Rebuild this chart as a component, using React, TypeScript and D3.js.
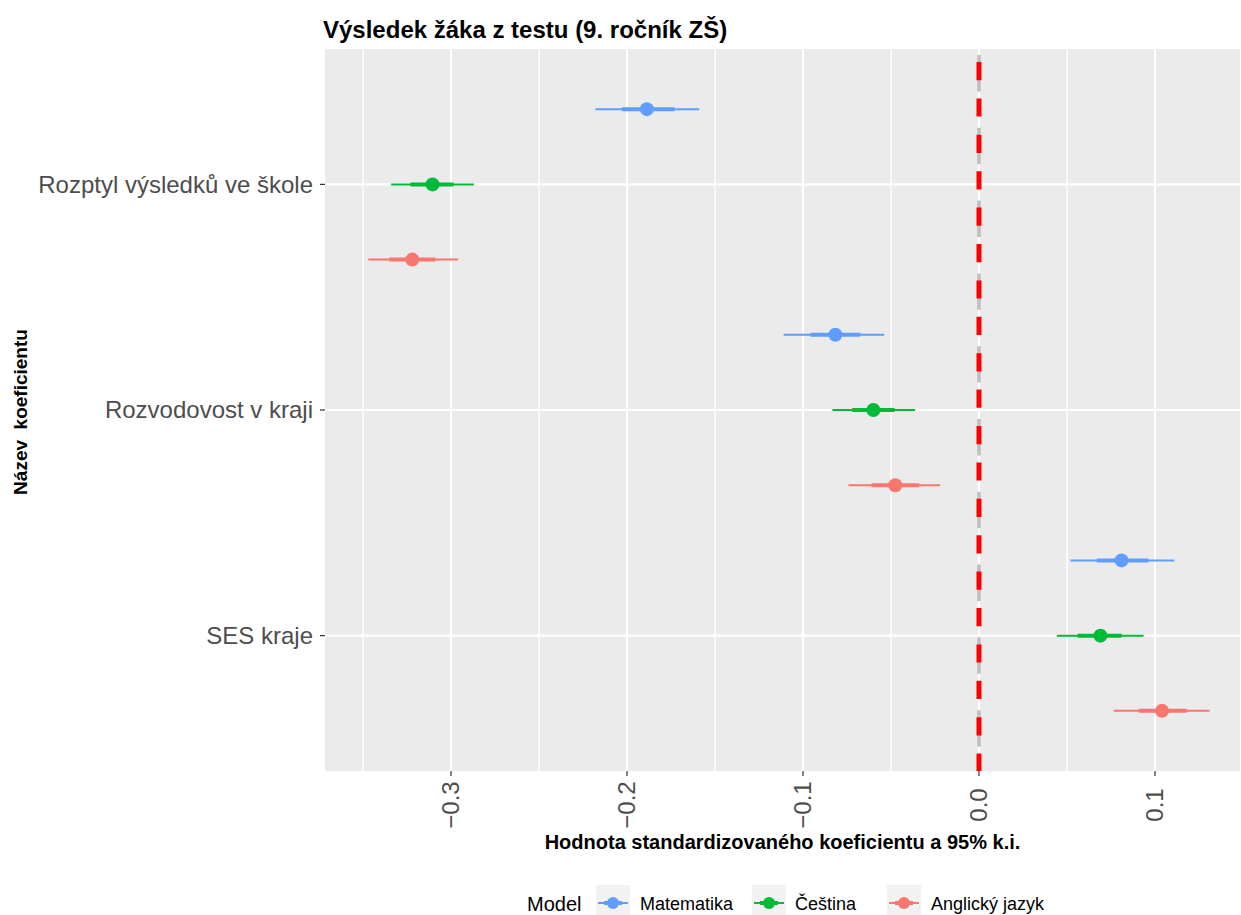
import React from "react";
import * as d3 from "d3";

// Coefficient estimates with 95% (outer) and inner intervals, per model
const categories = ["Rozptyl výsledků ve škole", "Rozvodovost v kraji", "SES kraje"];
const models = ["Matematika", "Čeština", "Anglický jazyk"];
const modelColors = ["#619CFF", "#00BA38", "#F8766D"];

// rows follow categories, columns follow models
const estimates = [
  [-0.1887, -0.3105, -0.322],
  [-0.0816, -0.06, -0.0476],
  [0.081, 0.069, 0.104],
];
const ciLow95 = [
  [-0.218, -0.334, -0.347],
  [-0.111, -0.0833, -0.0742],
  [0.052, 0.0442, 0.0765],
];
const ciHigh95 = [
  [-0.159, -0.287, -0.296],
  [-0.0538, -0.0363, -0.0221],
  [0.111, 0.0935, 0.131],
];
const ciLowInner = [
  [-0.203, -0.323, -0.335],
  [-0.0958, -0.072, -0.061],
  [0.0669, 0.056, 0.0907],
];
const ciHighInner = [
  [-0.173, -0.2986, -0.309],
  [-0.0674, -0.048, -0.034],
  [0.0963, 0.081, 0.118],
];
const xTicks = [-0.3, -0.2, -0.1, 0.0, 0.1];
const xMinorTicks = [-0.35, -0.25, -0.15, -0.05, 0.05];

const W = 1241;
const H = 915;
const panel = { left: 325, right: 1240, top: 49, bottom: 771 };
const FONT = "'Liberation Sans', Arial, Helvetica, sans-serif";

export default function App() {
  const x = d3.scaleLinear().domain([-0.3716, 0.1483]).range([panel.left, panel.right]);
  const y = d3
    .scalePoint<string>()
    .domain(categories)
    .range([panel.top, panel.bottom])
    .padding(0.6);
  const step = y.step();
  const dodge = d3
    .scalePoint<string>()
    .domain(models)
    .range([-step / 3, step / 3]);

  const fmt = d3.format(".1f");
  const zeroX = x(0);

  const legendItems = [
    { name: models[0], color: modelColors[0], keyX: 596, textX: 640 },
    { name: models[1], color: modelColors[1], keyX: 752, textX: 795 },
    { name: models[2], color: modelColors[2], keyX: 887, textX: 931 },
  ];

  return (
    <svg
      width={W}
      height={H}
      style={{ position: "absolute", left: 0, top: 0, background: "#fff" }}
      fontFamily={FONT}
    >
      {/* title */}
      <text x={323} y={38} fontSize={24} fontWeight="bold" fill="#000">
        Výsledek žáka z testu (9. ročník ZŠ)
      </text>

      {/* panel */}
      <rect
        x={panel.left}
        y={panel.top}
        width={panel.right - panel.left}
        height={panel.bottom - panel.top}
        fill="#EBEBEB"
      />
      {xMinorTicks.map((t) => (
        <line
          key={"mn" + t}
          x1={x(t)}
          x2={x(t)}
          y1={panel.top}
          y2={panel.bottom}
          stroke="#fff"
          strokeWidth={1.4}
        />
      ))}
      {xTicks.map((t) => (
        <line
          key={"mj" + t}
          x1={x(t)}
          x2={x(t)}
          y1={panel.top}
          y2={panel.bottom}
          stroke="#fff"
          strokeWidth={2.2}
        />
      ))}
      {categories.map((c) => (
        <line
          key={"hg" + c}
          x1={panel.left}
          x2={panel.right}
          y1={y(c)}
          y2={y(c)}
          stroke="#fff"
          strokeWidth={2.2}
        />
      ))}

      {/* reference lines at zero */}
      <line
        x1={zeroX}
        x2={zeroX}
        y1={panel.top}
        y2={panel.bottom}
        stroke="#BEBEBE"
        strokeWidth={3.5}
        strokeDasharray="36.4 36.4"
        strokeDashoffset={66.8}
      />
      <line
        x1={zeroX}
        x2={zeroX}
        y1={panel.top}
        y2={panel.bottom}
        stroke="#FF0000"
        strokeWidth={5}
        strokeDasharray="18.2 18.2"
        strokeDashoffset={23.4}
      />

      {/* estimates with intervals */}
      {categories.map((c, ci) =>
        models.map((m, mi) => {
          const cy = (y(c) as number) + (dodge(m) as number);
          const col = modelColors[mi];
          return (
            <g key={c + m}>
              <line
                x1={x(ciLow95[ci][mi])}
                x2={x(ciHigh95[ci][mi])}
                y1={cy}
                y2={cy}
                stroke={col}
                strokeWidth={2}
              />
              <line
                x1={x(ciLowInner[ci][mi])}
                x2={x(ciHighInner[ci][mi])}
                y1={cy}
                y2={cy}
                stroke={col}
                strokeWidth={4}
              />
              <circle cx={x(estimates[ci][mi])} cy={cy} r={7} fill={col} />
            </g>
          );
        })
      )}

      {/* y axis */}
      {categories.map((c) => (
        <g key={"yl" + c}>
          <line
            x1={panel.left - 5}
            x2={panel.left}
            y1={y(c)}
            y2={y(c)}
            stroke="#333"
            strokeWidth={1.2}
          />
          <text
            x={panel.left - 12}
            y={y(c)}
            dy="0.35em"
            textAnchor="end"
            fontSize={24}
            fill="#4D4D4D"
          >
            {c}
          </text>
        </g>
      ))}
      <text
        transform={`translate(20, 412) rotate(-90)`}
        textAnchor="middle"
        dy="0.35em"
        fontSize={19}
        fontWeight="bold"
        fill="#000"
        style={{ whiteSpace: "pre" }}
      >
        {"Název  koeficientu"}
      </text>

      {/* x axis */}
      {xTicks.map((t) => (
        <g key={"xl" + t}>
          <line
            x1={x(t)}
            x2={x(t)}
            y1={panel.bottom}
            y2={panel.bottom + 5}
            stroke="#333"
            strokeWidth={1.2}
          />
          <text
            transform={`translate(${x(t)}, ${805}) rotate(-90)`}
            textAnchor="middle"
            dy="0.35em"
            fontSize={24}
            fill="#4D4D4D"
          >
            {fmt(t)}
          </text>
        </g>
      ))}
      <text
        x={(panel.left + panel.right) / 2}
        y={849}
        textAnchor="middle"
        fontSize={20}
        fontWeight="bold"
        fill="#000"
      >
        Hodnota standardizovaného koeficientu a 95% k.i.
      </text>

      {/* legend */}
      <text x={527} y={904} dy="0.35em" fontSize={20} fill="#000">
        Model
      </text>
      {legendItems.map((it) => (
        <g key={"lg" + it.name}>
          <rect x={it.keyX} y={885} width={34} height={40} fill="#F2F2F2" />
          <line
            x1={it.keyX + 2}
            x2={it.keyX + 32}
            y1={903}
            y2={903}
            stroke={it.color}
            strokeWidth={2}
          />
          <line
            x1={it.keyX + 8}
            x2={it.keyX + 26}
            y1={903}
            y2={903}
            stroke={it.color}
            strokeWidth={4}
          />
          <circle cx={it.keyX + 17} cy={903} r={6} fill={it.color} />
          <text x={it.textX} y={904} dy="0.35em" fontSize={18} fill="#000">
            {it.name}
          </text>
        </g>
      ))}
    </svg>
  );
}
